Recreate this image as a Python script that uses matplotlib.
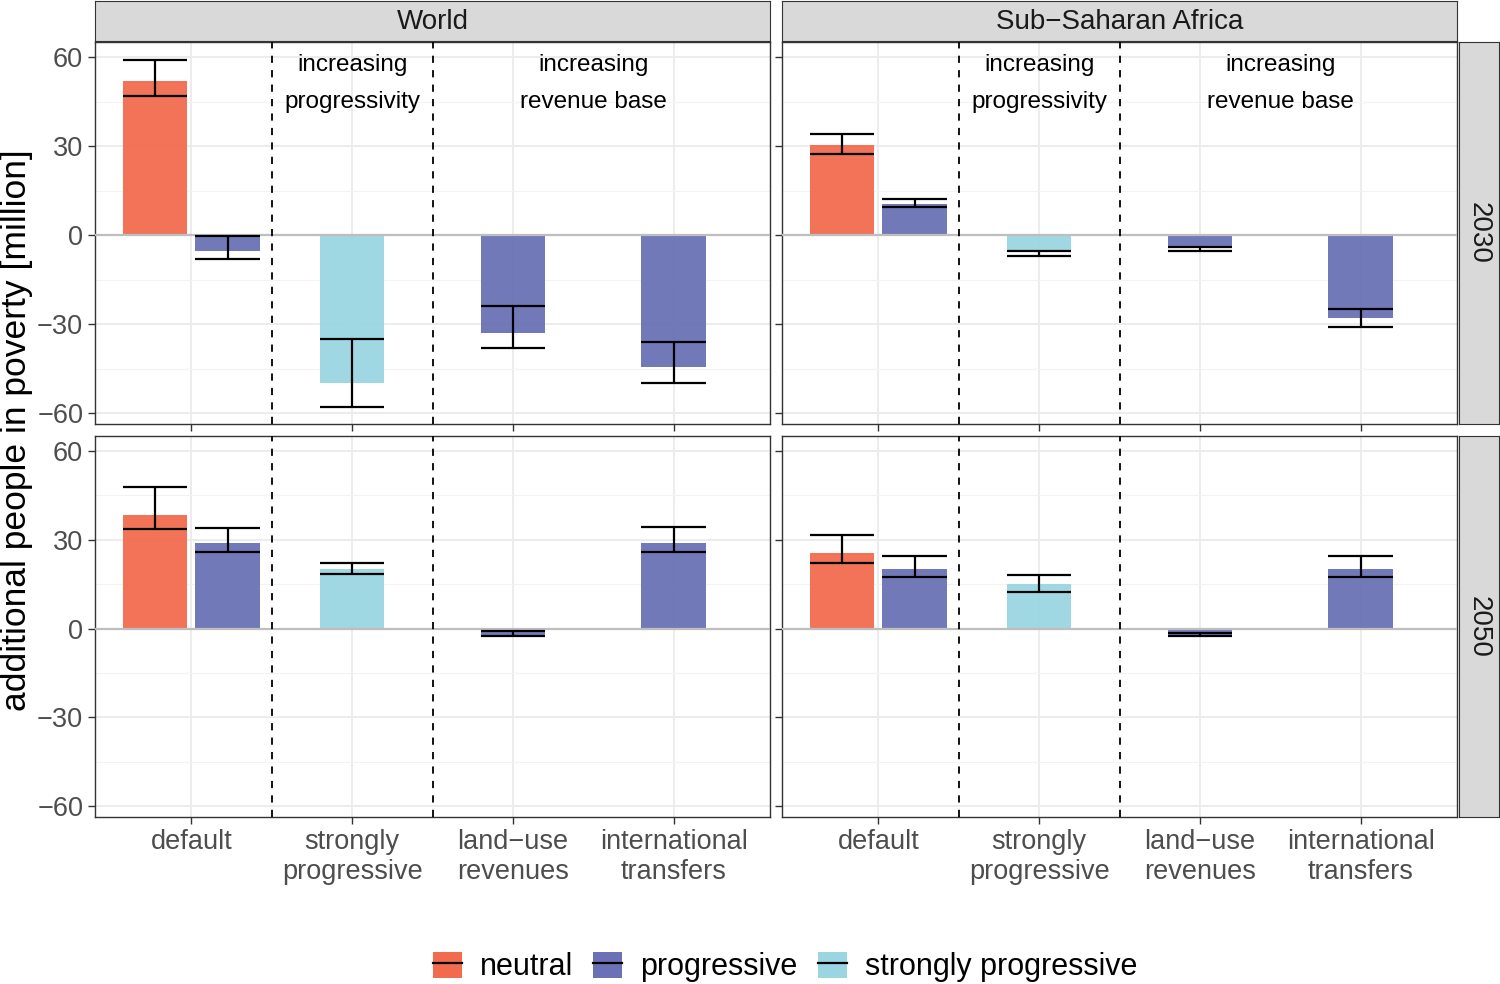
import matplotlib.pyplot as plt
from matplotlib.patches import Patch
from matplotlib.lines import Line2D
import numpy as np

plt.rcParams['font.family'] = ['Liberation Sans', 'DejaVu Sans']

regions = ['World', 'Sub\u2212Saharan Africa']
years = ['2030', '2050']
categories = ['default', 'strongly\nprogressive', 'land\u2212use\nrevenues', 'international\ntransfers']
schemes = ['neutral', 'progressive', 'strongly progressive']
scheme_colors = ['#F26B4E', '#6A72B5', '#9AD6E2']

# one entry per bar: category index and tax scheme
bar_category = [0, 0, 1, 2, 3]
bar_scheme = [0, 1, 2, 1, 1]

# values per panel (region, year), in the bar order above
values = {
    ('World', '2030'): [52, -5.5, -50, -33, -44.5],
    ('Sub\u2212Saharan Africa', '2030'): [30.5, 10.5, -5, -4, -28],
    ('World', '2050'): [38.5, 29, 20, -2.5, 29],
    ('Sub\u2212Saharan Africa', '2050'): [25.5, 20, 15, -2.5, 20],
}
err_low = {
    ('World', '2030'): [47, -8, -58, -38, -50],
    ('Sub\u2212Saharan Africa', '2030'): [27.5, 9.5, -7, -5.5, -31],
    ('World', '2050'): [33.5, 26, 18.5, -2.5, 26],
    ('Sub\u2212Saharan Africa', '2050'): [22, 17.5, 12.5, -2.5, 17.5],
}
err_high = {
    ('World', '2030'): [59, -0.3, -35, -24, -36],
    ('Sub\u2212Saharan Africa', '2030'): [34, 12, -5.5, -4, -25],
    ('World', '2050'): [48, 34, 22, -0.7, 34.5],
    ('Sub\u2212Saharan Africa', '2050'): [31.5, 24.5, 18, -1.5, 24.5],
}

annotations = ['increasing\nprogressivity', 'increasing\nrevenue base']
annotation_x = [2, 3.5]

W, H = 1500, 984
fig = plt.figure(figsize=(W / 100, H / 100), dpi=100)

def px_axes(x0, y0, x1, y1):
    return fig.add_axes([x0 / W, 1 - y1 / H, (x1 - x0) / W, (y1 - y0) / H])

col_x = [(95, 770), (782, 1457)]
row_y = [(42, 424), (436, 817)]
bar_w = 0.4
dodge = 0.225
border = '#333333'

for r, year in enumerate(years):
    for c, region in enumerate(regions):
        x0, x1 = col_x[c]
        y0, y1 = row_y[r]
        ax = px_axes(x0, y0, x1, y1)
        key = (region, year)

        # dodge bars that share a category
        xs = []
        for i, cat in enumerate(bar_category):
            n = bar_category.count(cat)
            if n == 1:
                xs.append(cat + 1)
            else:
                k = [j for j, cc in enumerate(bar_category) if cc == cat].index(i)
                xs.append(cat + 1 + (k - (n - 1) / 2) * 2 * dodge)
        xs = np.array(xs)
        cols = [scheme_colors[s] for s in bar_scheme]
        ax.bar(xs, values[key], width=bar_w, color=cols, alpha=0.95, zorder=2, linewidth=0)
        ax.axhline(0, color='#BEBEBE', lw=1.6, zorder=3)
        ax.vlines(xs, err_low[key], err_high[key], color='black', lw=1.6, zorder=4)
        ax.hlines(err_low[key], xs - bar_w / 2, xs + bar_w / 2, color='black', lw=1.6, zorder=4)
        ax.hlines(err_high[key], xs - bar_w / 2, xs + bar_w / 2, color='black', lw=1.6, zorder=4)

        for xv in [1.5, 2.5]:
            ax.axvline(xv, color='black', lw=1.3, ls=(0, (4, 4)), zorder=3)

        ax.set_xlim(0.4, 4.6)
        ax.set_ylim(-63.7, 65.1)
        ax.set_yticks([-60, -30, 0, 30, 60])
        ax.set_yticks([-45, -15, 15, 45], minor=True)
        ax.set_xticks(np.arange(1, 5))
        ax.grid(True, which='major', color='#EBEBEB', lw=1.3, zorder=0)
        ax.grid(True, which='minor', axis='y', color='#F3F3F3', lw=0.8, zorder=0)
        ax.set_axisbelow(True)
        ax.tick_params(which='minor', length=0)
        ax.tick_params(which='major', length=5, width=1, color=border,
                       labelcolor='#4D4D4D', labelsize=19.5)
        for s in ax.spines.values():
            s.set_color(border)
            s.set_linewidth(1)

        if c == 0:
            ax.set_yticklabels(['\u221260', '\u221230', '0', '30', '60'])
        else:
            ax.set_yticklabels([])
        if r == 1:
            ax.set_xticklabels(categories, linespacing=1.22)
        else:
            ax.set_xticklabels([])
            for t, xv in zip(annotations, annotation_x):
                ax.text(xv, 61.0, t, ha='center', va='top', fontsize=17.5,
                        color='black', linespacing=1.9, zorder=5)

        # strips
        if r == 0:
            sax = px_axes(x0, 1, x1, 41)
            sax.set_xticks([]); sax.set_yticks([])
            sax.set_facecolor('#D9D9D9')
            for s in sax.spines.values():
                s.set_color(border)
            sax.text(0.5, 0.47, region, ha='center', va='center', fontsize=20,
                     color='#1A1A1A', transform=sax.transAxes)
        if c == 1:
            sax = px_axes(1459, y0, 1499, y1)
            sax.set_xticks([]); sax.set_yticks([])
            sax.set_facecolor('#D9D9D9')
            for s in sax.spines.values():
                s.set_color(border)
            sax.text(0.5, 0.5, year, ha='center', va='center', fontsize=20,
                     color='#1A1A1A', rotation=-90, transform=sax.transAxes)

fig.text(17 / W, 1 - 430 / H, 'additional people in poverty [million]',
         rotation=90, ha='center', va='center', fontsize=25.5)

handles = [(Patch(facecolor=col, edgecolor='none'), Line2D([], [], color='black', lw=1.6))
           for col in scheme_colors]
fig.legend(handles, schemes, loc='center', bbox_to_anchor=(785 / W, 1 - 967 / H),
           ncol=3, frameon=False, fontsize=22, handlelength=0.95, handleheight=0.95,
           handletextpad=0.6, columnspacing=0.65)

fig.savefig('out.png', dpi=100)
